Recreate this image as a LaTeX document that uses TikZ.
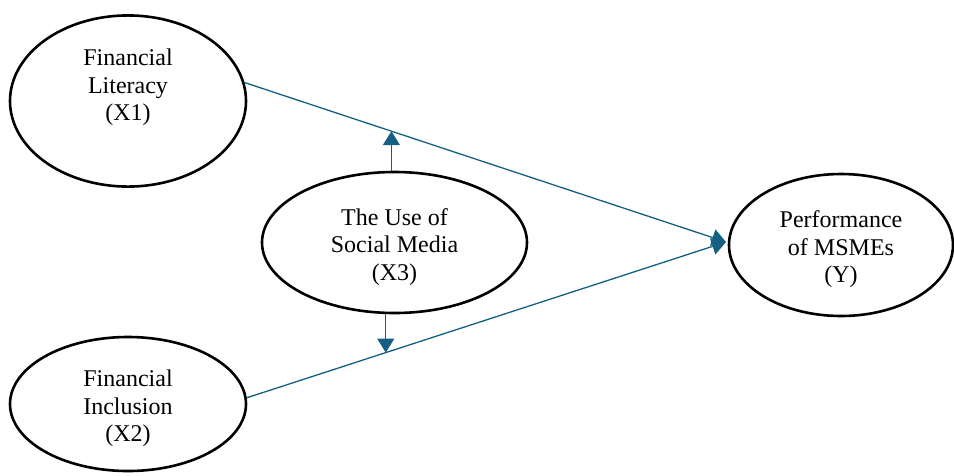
\documentclass[tikz,border=0pt]{standalone}
\usepackage{fontspec}
\setmainfont{Liberation Serif}
\usetikzlibrary{calc, arrows.meta, shapes.geometric}
\definecolor{flecha}{HTML}{156082}
\def\W{954}
\def\H{475}

\begin{document}
\begin{tikzpicture}[
	% Propiedades generales del dibujo
	x = 1pt, y = -1pt,
	line join = round, line cap = round,
	% Definición de nuevos estilos
	% 	a. variable latente (elipse)
	latente/.style = {
		ellipse, draw,
		line width = 2.6pt,
		inner sep = 0pt,
		align = center,
		text height = 80pt, text depth = 5pt,
		font = \fontsize{24}{27.5}\selectfont
	},
	% 	b. relación entre variables
	relacion/.style = {
		draw = flecha,
		line width = 1.3pt,
		arrows = -{Triangle[length = 14pt, width = 17pt]}
	},
]

	% márgenes del dibujo
	\useasboundingbox (0,0) rectangle (\W,\H);

	% variables
	\node[latente, minimum width = 236pt, minimum height = 136pt,
		text depth = 41pt]
		(x1) at (128,101) {Financial\\Literacy\\(X1)};
	\node[latente, minimum width = 265pt, minimum height = 141pt]
		(x3) at (394.5,242.5) {The Use of\\Social Media\\(X3)};
	\node[latente, minimum width = 236pt, minimum height = 134pt]
		(x2) at (128,404) {Financial\\Inclusion\\(X2)};
	\node[latente, minimum width = 224pt, minimum height = 142pt]
		(y) at (841,245) {Performance\\of MSMEs\\(Y)};

	% punto de llegada de las flechas
	\coordinate (jn) at (726,242);

	% relaciones directas
	\draw[relacion] (x1.9) -- (jn);
	\draw[relacion] (x2.3) -- (jn);

	% efecto moderador
	\coordinate (m1) at ($(x1.9)!0.305!(jn)$);
	\coordinate (m2) at ($(x2.3)!0.29!(jn)$);
	\draw[relacion] (x3.north -| m1) -- (m1);
	\draw[relacion] (x3.south -| m2) -- (m2);

\end{tikzpicture}
\end{document}
